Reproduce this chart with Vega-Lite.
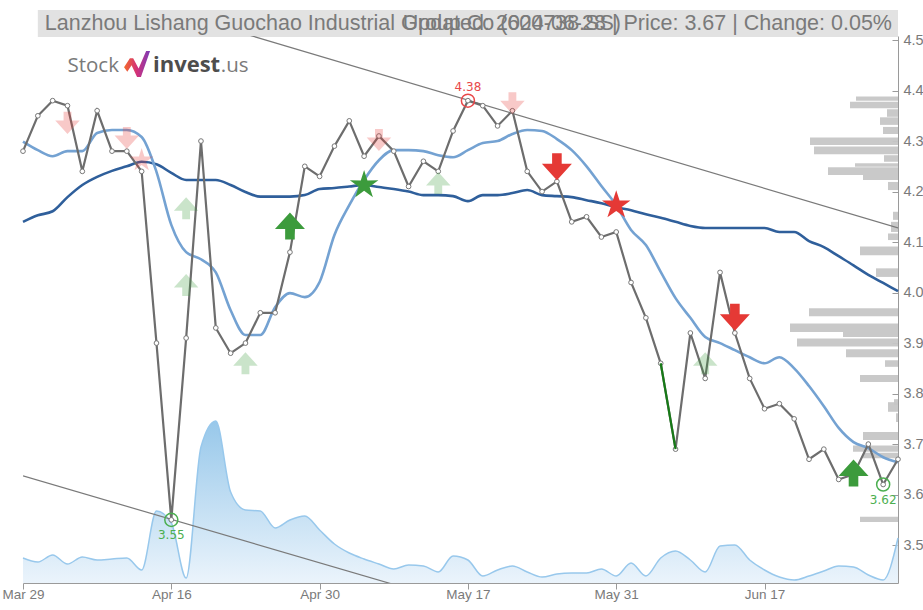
{
  "$schema": "https://vega.github.io/schema/vega-lite/v6.json",
  "width": 875,
  "height": 547,
  "autosize": {"type": "none"},
  "padding": {"left": 23, "top": 36, "right": 25, "bottom": 27},
  "background": "white",
  "config": {"view": {"stroke": null}},
  "datasets": {
    "px": [
      {"d": "2024-03-29", "c": 4.28, "m1": 4.299, "m2": 4.140, "v": 2500},
      {"d": "2024-04-01", "c": 4.35, "m1": 4.282, "m2": 4.153, "v": 2100},
      {"d": "2024-04-02", "c": 4.38, "m1": 4.270, "m2": 4.161, "v": 2800},
      {"d": "2024-04-03", "c": 4.37, "m1": 4.280, "m2": 4.189, "v": 1900},
      {"d": "2024-04-08", "c": 4.24, "m1": 4.280, "m2": 4.213, "v": 2600},
      {"d": "2024-04-09", "c": 4.36, "m1": 4.316, "m2": 4.229, "v": 2300},
      {"d": "2024-04-10", "c": 4.28, "m1": 4.322, "m2": 4.241, "v": 2400},
      {"d": "2024-04-11", "c": 4.28, "m1": 4.322, "m2": 4.250, "v": 2500},
      {"d": "2024-04-12", "c": 4.24, "m1": 4.308, "m2": 4.259, "v": 1300},
      {"d": "2024-04-15", "c": 3.90, "m1": 4.239, "m2": 4.254, "v": 7200},
      {"d": "2024-04-16", "c": 3.55, "m1": 4.134, "m2": 4.237, "v": 6000},
      {"d": "2024-04-17", "c": 3.91, "m1": 4.080, "m2": 4.223, "v": 500},
      {"d": "2024-04-18", "c": 4.30, "m1": 4.066, "m2": 4.223, "v": 13600},
      {"d": "2024-04-19", "c": 3.93, "m1": 4.040, "m2": 4.223, "v": 16200},
      {"d": "2024-04-22", "c": 3.88, "m1": 3.965, "m2": 4.213, "v": 9100},
      {"d": "2024-04-23", "c": 3.90, "m1": 3.916, "m2": 4.199, "v": 7300},
      {"d": "2024-04-24", "c": 3.96, "m1": 3.916, "m2": 4.190, "v": 7200},
      {"d": "2024-04-25", "c": 3.96, "m1": 3.971, "m2": 4.190, "v": 5500},
      {"d": "2024-04-26", "c": 4.08, "m1": 3.999, "m2": 4.190, "v": 6300},
      {"d": "2024-04-29", "c": 4.25, "m1": 3.991, "m2": 4.193, "v": 6700},
      {"d": "2024-04-30", "c": 4.23, "m1": 4.021, "m2": 4.205, "v": 5300},
      {"d": "2024-05-06", "c": 4.29, "m1": 4.114, "m2": 4.207, "v": 3900},
      {"d": "2024-05-07", "c": 4.34, "m1": 4.173, "m2": 4.210, "v": 3000},
      {"d": "2024-05-08", "c": 4.27, "m1": 4.223, "m2": 4.213, "v": 2400},
      {"d": "2024-05-09", "c": 4.31, "m1": 4.262, "m2": 4.209, "v": 1900},
      {"d": "2024-05-10", "c": 4.28, "m1": 4.282, "m2": 4.205, "v": 1400},
      {"d": "2024-05-13", "c": 4.21, "m1": 4.282, "m2": 4.200, "v": 1800},
      {"d": "2024-05-14", "c": 4.26, "m1": 4.280, "m2": 4.193, "v": 1700},
      {"d": "2024-05-15", "c": 4.24, "m1": 4.272, "m2": 4.193, "v": 1100},
      {"d": "2024-05-16", "c": 4.32, "m1": 4.268, "m2": 4.191, "v": 2700},
      {"d": "2024-05-17", "c": 4.38, "m1": 4.282, "m2": 4.181, "v": 2300},
      {"d": "2024-05-20", "c": 4.37, "m1": 4.296, "m2": 4.193, "v": 700},
      {"d": "2024-05-21", "c": 4.33, "m1": 4.300, "m2": 4.193, "v": 1300},
      {"d": "2024-05-22", "c": 4.36, "m1": 4.314, "m2": 4.197, "v": 1700},
      {"d": "2024-05-23", "c": 4.24, "m1": 4.322, "m2": 4.203, "v": 1100},
      {"d": "2024-05-24", "c": 4.20, "m1": 4.320, "m2": 4.193, "v": 600},
      {"d": "2024-05-27", "c": 4.22, "m1": 4.304, "m2": 4.191, "v": 900},
      {"d": "2024-05-28", "c": 4.14, "m1": 4.282, "m2": 4.189, "v": 1000},
      {"d": "2024-05-29", "c": 4.15, "m1": 4.250, "m2": 4.183, "v": 1000},
      {"d": "2024-05-30", "c": 4.11, "m1": 4.211, "m2": 4.177, "v": 1400},
      {"d": "2024-05-31", "c": 4.12, "m1": 4.173, "m2": 4.169, "v": 700},
      {"d": "2024-06-03", "c": 4.02, "m1": 4.124, "m2": 4.163, "v": 2000},
      {"d": "2024-06-04", "c": 3.95, "m1": 4.094, "m2": 4.155, "v": 700},
      {"d": "2024-06-05", "c": 3.86, "m1": 4.041, "m2": 4.148, "v": 2500},
      {"d": "2024-06-06", "c": 3.69, "m1": 3.989, "m2": 4.140, "v": 3200},
      {"d": "2024-06-07", "c": 3.92, "m1": 3.950, "m2": 4.132, "v": 2300},
      {"d": "2024-06-11", "c": 3.83, "m1": 3.912, "m2": 4.128, "v": 1100},
      {"d": "2024-06-12", "c": 4.04, "m1": 3.900, "m2": 4.128, "v": 3700},
      {"d": "2024-06-13", "c": 3.92, "m1": 3.886, "m2": 4.128, "v": 3800},
      {"d": "2024-06-14", "c": 3.83, "m1": 3.872, "m2": 4.128, "v": 2300},
      {"d": "2024-06-17", "c": 3.77, "m1": 3.860, "m2": 4.128, "v": 1300},
      {"d": "2024-06-18", "c": 3.78, "m1": 3.872, "m2": 4.120, "v": 600},
      {"d": "2024-06-19", "c": 3.75, "m1": 3.850, "m2": 4.120, "v": 300},
      {"d": "2024-06-20", "c": 3.67, "m1": 3.815, "m2": 4.102, "v": 700},
      {"d": "2024-06-21", "c": 3.69, "m1": 3.775, "m2": 4.090, "v": 1200},
      {"d": "2024-06-24", "c": 3.63, "m1": 3.732, "m2": 4.072, "v": 1700},
      {"d": "2024-06-25", "c": 3.64, "m1": 3.704, "m2": 4.054, "v": 1600},
      {"d": "2024-06-26", "c": 3.70, "m1": 3.692, "m2": 4.035, "v": 800},
      {"d": "2024-06-27", "c": 3.62, "m1": 3.674, "m2": 4.019, "v": 300},
      {"d": "2024-06-28", "c": 3.67, "m1": 3.664, "m2": 4.003, "v": 4500}
    ],
    "prof": [
      {"p0": 4.380, "p1": 4.388, "vol": 4200},
      {"p0": 4.365, "p1": 4.378, "vol": 4800},
      {"p0": 4.348, "p1": 4.363, "vol": 1100},
      {"p0": 4.332, "p1": 4.347, "vol": 1800},
      {"p0": 4.314, "p1": 4.328, "vol": 1500},
      {"p0": 4.292, "p1": 4.307, "vol": 8800},
      {"p0": 4.274, "p1": 4.289, "vol": 8400},
      {"p0": 4.259, "p1": 4.272, "vol": 1400},
      {"p0": 4.249, "p1": 4.256, "vol": 4300},
      {"p0": 4.233, "p1": 4.248, "vol": 7000},
      {"p0": 4.223, "p1": 4.233, "vol": 3500},
      {"p0": 4.203, "p1": 4.219, "vol": 1000},
      {"p0": 4.144, "p1": 4.160, "vol": 500},
      {"p0": 4.120, "p1": 4.140, "vol": 700},
      {"p0": 4.104, "p1": 4.117, "vol": 1000},
      {"p0": 4.074, "p1": 4.091, "vol": 3800},
      {"p0": 4.031, "p1": 4.048, "vol": 2200},
      {"p0": 3.953, "p1": 3.969, "vol": 8900},
      {"p0": 3.922, "p1": 3.939, "vol": 10800},
      {"p0": 3.912, "p1": 3.922, "vol": 5500},
      {"p0": 3.893, "p1": 3.909, "vol": 10100},
      {"p0": 3.872, "p1": 3.888, "vol": 5200},
      {"p0": 3.853, "p1": 3.866, "vol": 1300},
      {"p0": 3.823, "p1": 3.837, "vol": 3800},
      {"p0": 3.777, "p1": 3.789, "vol": 400},
      {"p0": 3.764, "p1": 3.783, "vol": 1000},
      {"p0": 3.744, "p1": 3.761, "vol": 200},
      {"p0": 3.708, "p1": 3.724, "vol": 3500},
      {"p0": 3.685, "p1": 3.697, "vol": 4500},
      {"p0": 3.672, "p1": 3.683, "vol": 3500},
      {"p0": 3.546, "p1": 3.556, "vol": 3800}
    ],
    "sig": [
      {"d": "2024-04-03", "p": 4.336, "sym": "down", "type": "sell-weak"},
      {"d": "2024-04-11", "p": 4.306, "sym": "down", "type": "sell-weak"},
      {"d": "2024-04-12", "p": 4.262, "sym": "star", "type": "sell-weak"},
      {"d": "2024-04-17", "p": 4.167, "sym": "up", "type": "buy-weak"},
      {"d": "2024-04-17", "p": 4.015, "sym": "up", "type": "buy-weak"},
      {"d": "2024-04-23", "p": 3.860, "sym": "up", "type": "buy-weak"},
      {"d": "2024-04-26", "p": 4.132, "sym": "up", "type": "buy"},
      {"d": "2024-05-08", "p": 4.213, "sym": "star", "type": "buy"},
      {"d": "2024-05-09", "p": 4.302, "sym": "down", "type": "sell-weak"},
      {"d": "2024-05-15", "p": 4.217, "sym": "up", "type": "buy-weak"},
      {"d": "2024-05-22", "p": 4.375, "sym": "down", "type": "sell-weak"},
      {"d": "2024-05-27", "p": 4.249, "sym": "down", "type": "sell"},
      {"d": "2024-05-31", "p": 4.173, "sym": "star", "type": "sell"},
      {"d": "2024-06-11", "p": 3.860, "sym": "up", "type": "buy-weak"},
      {"d": "2024-06-13", "p": 3.951, "sym": "down", "type": "sell"},
      {"d": "2024-06-25", "p": 3.643, "sym": "up", "type": "buy"}
    ],
    "ext": [
      {"d": "2024-05-17", "p": 4.38, "kind": "high", "label": "4.38"},
      {"d": "2024-04-16", "p": 3.55, "kind": "low", "label": "3.55"},
      {"d": "2024-06-27", "p": 3.62, "kind": "low", "label": "3.62"}
    ],
    "trend": [
      {"line": "upper", "d": "2024-04-23", "p": 4.512},
      {"line": "upper", "d": "2024-06-28", "p": 4.128},
      {"line": "lower", "d": "2024-03-29", "p": 3.637},
      {"line": "lower", "d": "2024-05-10", "p": 3.422}
    ]
  },
  "layer": [
    {
      "data": {"name": "px"},
      "mark": {
        "type": "area",
        "interpolate": "monotone",
        "color": {"gradient": "linear", "x1": 0, "x2": 0, "y1": 0, "y2": 1,
          "stops": [{"offset": 0, "color": "#6bb0e1"}, {"offset": 1, "color": "#e2effa"}]},
        "line": {"color": "#98c8ec", "strokeWidth": 1.5}
      },
      "encoding": {
        "x": {"field": "d", "type": "ordinal", "scale": {"type": "point", "padding": 0}, "axis": null},
        "y": {"field": "v", "type": "quantitative", "scale": {"domain": [0, 54700]}, "axis": null}
      }
    },
    {
      "data": {"name": "prof"},
      "mark": {"type": "rect", "color": "#c6c6c6", "opacity": 0.95},
      "encoding": {
        "x": {"field": "vol", "type": "quantitative", "scale": {"domain": [0, 87500], "reverse": true}, "axis": null},
        "x2": {"datum": 0},
        "y": {"field": "p0", "type": "quantitative", "scale": {"domain": [3.425, 4.508], "nice": false, "zero": false}, "axis": null},
        "y2": {"field": "p1"}
      }
    },
    {
      "layer": [
        {
          "data": {"values": [{}]},
          "mark": {"type": "rect", "color": "#e2e2e2"},
          "encoding": {
            "x": {"datum": "2024-04-01", "type": "ordinal"},
            "x2": {"datum": "2024-06-28"},
            "y": {"datum": 4.5594, "type": "quantitative"},
            "y2": {"datum": 4.506}
          }
        },
        {
          "data": {"values": [{"t": "Lanzhou Lishang Guochao Industrial Group Co (600738.SS)"}]},
          "mark": {"type": "text", "align": "left", "baseline": "middle", "dx": 7, "font": "Liberation Sans", "fontSize": 21.5, "color": "#7a7a7a"},
          "encoding": {
            "x": {"datum": "2024-04-01", "type": "ordinal"},
            "y": {"datum": 4.5327, "type": "quantitative"},
            "text": {"field": "t"}
          }
        },
        {
          "data": {"values": [{"t": "Updated: 2024-06-28 | Price: 3.67 | Change: 0.05%"}]},
          "mark": {"type": "text", "align": "right", "baseline": "middle", "dx": -6, "font": "Liberation Sans", "fontSize": 21.5, "color": "#7a7a7a"},
          "encoding": {
            "x": {"datum": "2024-06-28", "type": "ordinal"},
            "y": {"datum": 4.5327, "type": "quantitative"},
            "text": {"field": "t"}
          }
        },
        {
          "data": {"values": [{"t": "Stock"}]},
          "mark": {"type": "text", "align": "left", "baseline": "alphabetic", "dx": 0, "font": "Open Sans", "fontSize": 20.5, "color": "#7a7a7a"},
          "encoding": {
            "x": {"datum": "2024-04-03", "type": "ordinal"},
            "y": {"datum": 4.437, "type": "quantitative"},
            "text": {"field": "t"}
          }
        },
        {
          "data": {"values": [{"t": "invest"}]},
          "mark": {"type": "text", "align": "left", "baseline": "alphabetic", "dx": -3.5, "font": "Open Sans", "fontWeight": "bold", "fontSize": 22, "color": "#4d4d4d"},
          "encoding": {
            "x": {"datum": "2024-04-15", "type": "ordinal"},
            "y": {"datum": 4.437, "type": "quantitative"},
            "text": {"field": "t"}
          }
        },
        {
          "data": {"values": [{"t": ".us"}]},
          "mark": {"type": "text", "align": "left", "baseline": "alphabetic", "dx": 5, "font": "Open Sans", "fontSize": 20.5, "color": "#7a7a7a"},
          "encoding": {
            "x": {"datum": "2024-04-19", "type": "ordinal"},
            "y": {"datum": 4.437, "type": "quantitative"},
            "text": {"field": "t"}
          }
        },
        {
          "data": {"values": [{}]},
          "mark": {
            "type": "point", "filled": true, "size": 676, "xOffset": -4.6, "opacity": 1,
            "shape": "M-1,0.25L-0.55,-0.45L-0.3,-0.45L0.12,0.35L0.7,-1L1,-1L0.3,1L0,1L-0.42,0.1L-0.75,0.6Z",
            "fill": {"gradient": "linear", "x1": 0, "x2": 1, "y1": 0, "y2": 0,
              "stops": [{"offset": 0, "color": "#f46a2a"}, {"offset": 0.5, "color": "#d2317a"}, {"offset": 1, "color": "#7a3cb8"}]}
          },
          "encoding": {
            "x": {"datum": "2024-04-12", "type": "ordinal"},
            "y": {"datum": 4.4525, "type": "quantitative"}
          }
        },
        {
          "data": {"name": "trend"},
          "mark": {"type": "line", "clip": true, "color": "#7a7a7a", "strokeWidth": 1.2},
          "encoding": {
            "x": {"field": "d", "type": "ordinal"},
            "y": {"field": "p", "type": "quantitative"},
            "detail": {"field": "line"}
          }
        },
        {
          "data": {"name": "px"},
          "mark": {"type": "line", "interpolate": "monotone", "color": "#2f5f9b", "strokeWidth": 2.6},
          "encoding": {
            "x": {"field": "d", "type": "ordinal"},
            "y": {"field": "m2", "type": "quantitative"}
          }
        },
        {
          "data": {"name": "px"},
          "mark": {"type": "line", "interpolate": "monotone", "color": "#74a2d2", "strokeWidth": 2.6},
          "encoding": {
            "x": {"field": "d", "type": "ordinal"},
            "y": {"field": "m1", "type": "quantitative"}
          }
        },
        {
          "data": {"name": "px"},
          "mark": {"type": "line", "color": "#6d6d6d", "strokeWidth": 2.2,
            "point": {"filled": true, "fill": "white", "stroke": "#777777", "strokeWidth": 1, "size": 22}},
          "encoding": {
            "x": {"field": "d", "type": "ordinal", "scale": {"type": "point", "padding": 0}, "title": null,
              "axis": {
                "values": ["2024-03-29", "2024-04-16", "2024-04-30", "2024-05-17", "2024-05-31", "2024-06-17"],
                "labelExpr": "utcFormat(toDate(datum.value), '%b %-d')",
                "labelAngle": 0, "labelAlign": "center", "grid": false, "domainColor": "#9a9a9a", "tickColor": "#9a9a9a", "tickSize": 6,
                "labelColor": "#7a7a7a", "labelFont": "Liberation Sans",
                "labelFontSize": 13.5, "labelPadding": 5
              }},
            "y": {"field": "c", "type": "quantitative", "title": null,
              "scale": {"domain": [3.425, 4.508], "nice": false, "zero": false},
              "axis": {
                "orient": "right", "values": [3.5, 3.6, 3.7, 3.8, 3.9, 4.0, 4.1, 4.2, 4.3, 4.4, 4.5], "format": ".1f",
                "grid": false, "domainColor": "#9a9a9a", "tickColor": "#9a9a9a", "tickSize": -6, "labelPadding": 11,
                "labelColor": "#7a7a7a", "labelFont": "Liberation Sans",
                "labelFontSize": 14.5
              }}
          }
        },
        {
          "data": {"name": "px"},
          "transform": [{"filter": "datum.d == '2024-06-05' || datum.d == '2024-06-06'"}],
          "mark": {"type": "line", "color": "#177a17", "strokeWidth": 2.2},
          "encoding": {
            "x": {"field": "d", "type": "ordinal"},
            "y": {"field": "c", "type": "quantitative"}
          }
        },
        {
          "data": {"name": "sig"},
          "mark": {"type": "point", "filled": true, "strokeWidth": 0},
          "encoding": {
            "x": {"field": "d", "type": "ordinal"},
            "y": {"field": "p", "type": "quantitative"},
            "shape": {"field": "sym", "type": "nominal", "legend": null,
              "scale": {"domain": ["up", "down", "star"], "range": [
                "M-0.32,0.9L0.32,0.9L0.32,0.2L1,0.2L0,-0.9L-1,0.2L-0.32,0.2Z",
                "M-0.32,-0.9L0.32,-0.9L0.32,-0.2L1,-0.2L0,0.9L-1,-0.2L-0.32,-0.2Z",
                "M0,-1L0.2234,-0.3074L0.9511,-0.309L0.3614,0.1174L0.5878,0.809L0,0.38L-0.5878,0.809L-0.3614,0.1174L-0.9511,-0.309L-0.2234,-0.3074Z"]}},
            "color": {"condition": {"test": "indexof(datum.type, 'buy') == 0", "value": "#3c9b3c"}, "value": "#e53935"},
            "opacity": {"condition": {"test": "indexof(datum.type, 'weak') >= 0", "value": 0.27}, "value": 1},
            "size": {"condition": {"test": "indexof(datum.type, 'weak') >= 0", "value": 600}, "value": 900}
          }
        },
        {
          "data": {"name": "ext"},
          "mark": {"type": "point", "filled": false, "size": 170, "strokeWidth": 1.5, "opacity": 1},
          "encoding": {
            "x": {"field": "d", "type": "ordinal"},
            "y": {"field": "p", "type": "quantitative"},
            "color": {"condition": {"test": "datum.kind == 'high'", "value": "#e8484a"}, "value": "#4caf50"}
          }
        },
        {
          "data": {"name": "ext"},
          "transform": [{"filter": "datum.kind == 'high'"}],
          "mark": {"type": "text", "dy": -14, "font": "DejaVu Sans", "fontSize": 12, "color": "#e8484a"},
          "encoding": {
            "x": {"field": "d", "type": "ordinal"},
            "y": {"field": "p", "type": "quantitative"},
            "text": {"field": "label"}
          }
        },
        {
          "data": {"name": "ext"},
          "transform": [{"filter": "datum.kind == 'low'"}],
          "mark": {"type": "text", "dy": 15, "font": "DejaVu Sans", "fontSize": 12, "color": "#4caf50"},
          "encoding": {
            "x": {"field": "d", "type": "ordinal"},
            "y": {"field": "p", "type": "quantitative"},
            "text": {"field": "label"}
          }
        }
      ]
    }
  ],
  "resolve": {"scale": {"x": "independent", "y": "independent"}, "axis": {"x": "independent", "y": "independent"}}
}
